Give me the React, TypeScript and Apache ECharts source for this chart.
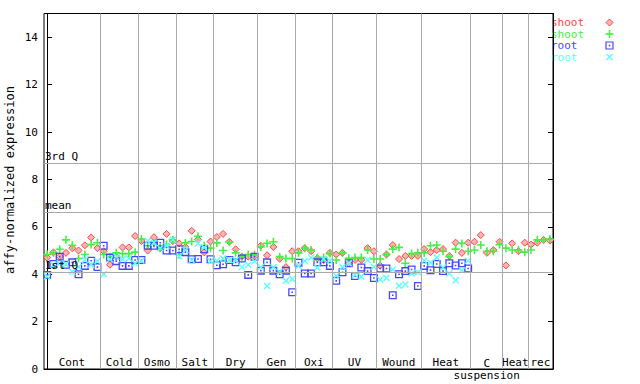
import React, { useEffect, useRef } from 'react';
import * as echarts from 'echarts';

// shoot (red diamonds), sample index 0..80
const shootRed = [
  4.7, 4.92, 4.75, 4.9, 5.1, 5.0, 5.22, 5.55, 5.1, 4.97,
  4.4, 4.75, 5.13, 5.13, 5.61, 5.4, 5.0, 5.56, 5.1, 5.7,
  5.4, 5.3, 5.15, 5.83, 5.47, 4.92, 5.38, 5.57, 5.7, 5.37,
  5.05, 4.74, 4.74, 4.75, 5.2, 4.8, 5.15, 4.65, 4.3, 4.97,
  4.97, 5.1, 4.97, 4.67, 4.6, 4.9, 4.83, 4.9, 4.46, 4.6,
  4.6, 5.1, 4.97, 4.36, 4.83, 5.23, 4.64, 4.77, 4.77, 4.77,
  5.06, 4.93, 5.02, 5.06, 4.77, 5.33, 4.9, 5.33, 5.37, 5.65,
  4.9, 5.02, 5.37, 4.37, 5.3, 4.97, 5.33, 5.25, 5.33, 5.45,
  5.42,
];
// shoot (green plus)
const shootGreen = [
  4.83, 4.9, 5.05, 5.45, 5.22, 4.66, 4.83, 5.25, 5.33, 4.83,
  4.74, 4.9, 4.87, 4.87, 4.93, 5.48, 5.2, 5.3, 5.1, 5.25,
  5.45, 4.83, 5.32, 5.38, 5.6, 5.21, 5.1, 5.32, 5.0, 5.35,
  4.9, 4.74, 4.83, 4.83, 5.15, 5.3, 5.37, 4.74, 4.66, 4.66,
  4.9, 5.1, 5.02, 4.7, 4.7, 4.87, 4.6, 4.9, 4.67, 4.7,
  4.7, 5.02, 4.64, 4.64, 4.83, 5.06, 5.13, 4.46, 4.87, 4.9,
  4.9, 5.2, 5.23, 4.97, 4.74, 5.06, 5.3, 4.97, 5.02, 5.23,
  4.97, 4.97, 5.25, 5.1, 5.02, 5.02, 4.93, 5.02, 5.45, 5.45,
  5.48,
];
// root (blue squares), sample index 0..67
const rootBlue = [
  3.97, 4.43, 4.74, 4.4, 4.5, 4.0, 4.35, 4.57, 4.3, 5.2,
  4.7, 4.55, 4.35, 4.35, 4.6, 4.6, 5.2, 5.2, 5.33, 5.0,
  5.0, 5.05, 4.93, 4.63, 4.64, 5.05, 4.63, 4.38, 4.42, 4.6,
  4.5, 4.66, 3.97, 4.74, 4.15, 4.5, 4.15, 4.0, 4.15, 3.24,
  4.48, 4.03, 4.03, 4.5, 4.5, 4.35, 3.72, 4.08, 4.46, 3.92,
  4.28, 4.13, 3.84, 4.24, 4.24, 3.11, 4.0, 4.13, 4.2, 3.5,
  4.35, 4.17, 4.43, 4.13, 4.46, 4.37, 4.46, 4.24,
];
// root (cyan crosses)
const rootCyan = [
  3.9, 4.4, 4.46, 4.43, 4.1, 4.3, 4.6, 4.4, 4.55, 4.0,
  4.63, 4.74, 4.63, 4.66, 4.46, 4.57, 5.4, 5.33, 5.1, 5.2,
  5.45, 4.76, 5.02, 4.6, 5.3, 5.13, 4.55, 4.57, 4.66, 4.6,
  4.6, 4.3, 4.4, 4.55, 4.3, 3.5, 4.3, 4.1, 3.72, 3.8,
  4.35, 4.56, 4.7, 4.28, 4.64, 4.57, 3.93, 4.3, 4.46, 3.97,
  3.9, 4.6, 4.3, 3.77, 3.84, 4.2, 3.51, 3.57, 4.03, 4.08,
  4.57, 4.48, 4.7, 4.28, 4.03, 3.74, 4.17, 4.57,
];

const groupNames = ['Cont', 'Cold', 'Osmo', 'Salt', 'Dry', 'Gen', 'Oxi', 'UV', 'Wound', 'Heat', 'C\nsuspension', 'Heat', 'rec'];
const groupBounds = [-0.5, 8.4, 14.5, 20.5, 26.5, 33.5, 39.5, 45.4, 52.4, 59.5, 67.4, 72.5, 76.5, 80.5];

const refNames = ['3rd Q', 'mean', '1st Q'];
const refValues = [8.69, 6.62, 4.09];

const legendNames = ['shoot', 'shoot', 'root', 'root'];

const RED = '#ff4545';
const GREEN = '#44f044';
const BLUE = '#4646ff';
const CYAN = '#55ffff';
const FONT = 'DejaVu Sans Mono';

const toPts = (arr: number[]) => arr.map((v, i) => [i, v]);

export default function App() {
  const ref = useRef<HTMLDivElement>(null);
  useEffect(() => {
    const chart = echarts.init(ref.current!, null, { renderer: 'svg' });
    const legendColors = [RED, GREEN, BLUE, CYAN];
    const rowY = [22.5, 34, 45.5, 57];
    const mx = 609.5;
    const legendGraphics: any[] = [];
    legendNames.forEach((n, i) => {
      legendGraphics.push({
        type: 'text', x: 551, y: rowY[i],
        style: { text: n, fill: legendColors[i], font: `11px "${FONT}"`, textVerticalAlign: 'middle' },
      });
    });
    legendGraphics.push({
      type: 'polygon',
      shape: { points: [[mx, rowY[0] - 3.5], [mx + 3.5, rowY[0]], [mx, rowY[0] + 3.5], [mx - 3.5, rowY[0]]] },
      style: { fill: '#ffb3b3', stroke: RED, lineWidth: 1 },
    });
    legendGraphics.push({ type: 'rect', shape: { x: mx - 4, y: rowY[1] - 0.8, width: 8, height: 1.6 }, style: { fill: GREEN } });
    legendGraphics.push({ type: 'rect', shape: { x: mx - 0.8, y: rowY[1] - 4, width: 1.6, height: 8 }, style: { fill: GREEN } });
    legendGraphics.push({ type: 'rect', shape: { x: mx - 3.5, y: rowY[2] - 3.5, width: 7, height: 7 }, style: { fill: 'none', stroke: BLUE, lineWidth: 1.2 } });
    legendGraphics.push({ type: 'rect', shape: { x: mx - 0.8, y: rowY[2] - 0.8, width: 1.6, height: 1.6 }, style: { fill: BLUE } });
    legendGraphics.push({ type: 'line', shape: { x1: mx - 3, y1: rowY[3] - 3, x2: mx + 3, y2: rowY[3] + 3 }, style: { stroke: CYAN, lineWidth: 1.3 } });
    legendGraphics.push({ type: 'line', shape: { x1: mx - 3, y1: rowY[3] + 3, x2: mx + 3, y2: rowY[3] - 3 }, style: { stroke: CYAN, lineWidth: 1.3 } });

    const areaData = groupNames.map((n, i) => [
      {
        xAxis: groupBounds[i],
        name: n,
        label: n.includes('\n') ? { offset: [0, 13] } : {},
      },
      { xAxis: groupBounds[i + 1] },
    ]);

    const option: any = {
      animation: false,
      backgroundColor: '#ffffff',
      textStyle: { fontFamily: FONT },
      grid: { left: 44, right: 87, top: 13.5, bottom: 15, show: true, borderColor: '#000', borderWidth: 1 },
      xAxis: {
        type: 'value', min: -0.5, max: 80.5,
        axisLine: { show: true, onZero: false, lineStyle: { color: '#000', width: 1 } },
        axisTick: { show: false }, axisLabel: { show: false }, splitLine: { show: false },
      },
      yAxis: [
        {
          type: 'value', min: 0, max: 15, interval: 2, position: 'left',
          axisLine: { show: true, lineStyle: { color: '#000' } },
          axisTick: { show: true, inside: true, length: 5, lineStyle: { color: '#000' } },
          axisLabel: {
            color: '#000', fontFamily: FONT, fontSize: 11, margin: 6,
            formatter: (v: number) => (v > 14 ? '' : String(v)),
          },
          splitLine: { show: false },
        },
        {
          type: 'value', min: 0, max: 15, interval: 2, position: 'right',
          axisLine: { show: true, lineStyle: { color: '#000' } },
          axisTick: { show: true, inside: true, length: 5, lineStyle: { color: '#000' } },
          axisLabel: { show: false },
          splitLine: { show: false },
        },
      ],
      graphic: [
        {
          type: 'text', x: 10, y: 180, rotation: Math.PI / 2,
          style: { text: 'affy-normalized expression', fill: '#000', font: `12px "${FONT}"`, textAlign: 'center', textVerticalAlign: 'middle' },
        },
        ...legendGraphics,
      ],
      series: [
        {
          type: 'scatter', data: [], z: 1, silent: true,
          markLine: {
            silent: true, symbol: 'none', animation: false,
            lineStyle: { color: '#aaaaaa', type: 'solid', width: 1 },
            label: { show: false },
            data: [
              ...groupBounds.slice(1, -1).map((b) => ({ xAxis: b })),
              ...refNames.map((n, i) => ({
                yAxis: refValues[i], name: n,
                label: {
                  show: true, position: 'insideStartTop', formatter: '{b}', distance: [1, 1],
                  color: '#000', fontFamily: FONT, fontSize: 11,
                },
              })),
            ],
          },
          markArea: {
            silent: true,
            itemStyle: { color: 'rgba(0,0,0,0)' },
            label: {
              show: true, position: 'insideBottom', distance: 1,
              color: '#000', fontFamily: FONT, fontSize: 11, lineHeight: 12,
            },
            data: areaData,
          },
        },
        {
          name: 'shoot', type: 'scatter', data: toPts(shootRed), z: 3,
          symbol: 'diamond', symbolSize: 7,
          itemStyle: { color: '#ffb3b3', borderColor: RED, borderWidth: 1, opacity: 1 },
        },
        {
          name: 'shoot', type: 'scatter', data: toPts(shootGreen), z: 3,
          symbol: 'path://M3.2,0L4.8,0L4.8,3.2L8,3.2L8,4.8L4.8,4.8L4.8,8L3.2,8L3.2,4.8L0,4.8L0,3.2L3.2,3.2Z',
          symbolSize: 8, symbolKeepAspect: true,
          itemStyle: { color: GREEN, opacity: 1 },
        },
        {
          name: 'root', type: 'scatter', data: toPts(rootBlue), z: 3,
          symbol: 'path://M0,0L8,0L8,8L0,8Z M1.3,1.3L1.3,6.7L6.7,6.7L6.7,1.3Z M3.2,3.2L4.8,3.2L4.8,4.8L3.2,4.8Z',
          symbolSize: 8, symbolKeepAspect: true,
          itemStyle: { color: BLUE, opacity: 1 },
        },
        {
          name: 'root', type: 'scatter', data: toPts(rootCyan), z: 3,
          symbol: 'path://M0,1.1L1.1,0L4,2.9L6.9,0L8,1.1L5.1,4L8,6.9L6.9,8L4,5.1L1.1,8L0,6.9L2.9,4Z',
          symbolSize: 7, symbolKeepAspect: true,
          itemStyle: { color: CYAN, opacity: 1 },
        },
      ],
    };
    chart.setOption(option);
    return () => chart.dispose();
  }, []);
  return <div ref={ref} style={{ position: 'fixed', left: 0, top: 0, width: 640, height: 384 }} />;
}
